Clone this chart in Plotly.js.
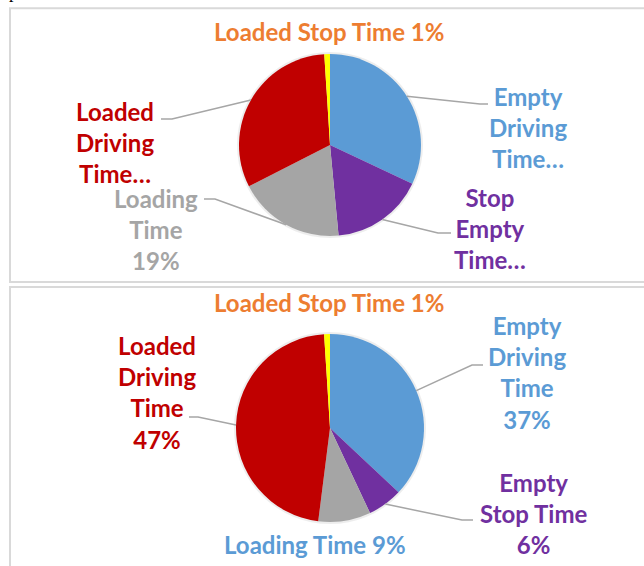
<!DOCTYPE html>
<html>
<head>
<meta charset="utf-8">
<script src="https://cdn.plot.ly/plotly-3.0.1.min.js"></script>
<style>
html,body{margin:0;padding:0;background:#fff;}
#chart{width:644px;height:566px;}
</style>
</head>
<body>
<div id="chart"></div>
<script>
// ---- data ----
const categories = ['Empty Driving Time', 'Empty Stop Time', 'Loading Time', 'Loaded Driving Time', 'Loaded Stop Time'];
const topValues = [32, 16.5, 19, 31.5, 1];
const bottomValues = [37, 6, 9, 47, 1];
const sliceColors = ['#5B9BD5', '#7030A0', '#A5A5A5', '#C00000', '#FFFF00'];
const topLabels = ['Empty<br>Driving<br>Time…', 'Stop<br>Empty<br>Time…', 'Loading<br>Time<br>19%', 'Loaded<br>Driving<br>Time…', 'Loaded Stop Time 1%'];
const bottomLabels = ['Empty<br>Driving<br>Time<br>37%', 'Empty<br>Stop Time<br>6%', 'Loading Time 9%', 'Loaded<br>Driving<br>Time<br>47%', 'Loaded Stop Time 1%'];
const topLabelColors = ['#5B9BD5', '#7030A0', '#A5A5A5', '#C00000', '#ED7D31'];
const bottomLabelColors = ['#5B9BD5', '#7030A0', '#5B9BD5', '#C00000', '#ED7D31'];

// ---- layout helpers ----
const W = 644, H = 566;
const px = x => x / W;
const py = y => 1 - y / H;

const charts = [
  {values: topValues, labels: topLabels, labelColors: topLabelColors, cx: 330, cy: 145, r: 91,
   labelPos: [[528, 127], [490, 228], [156, 229], [115, 142], [329, 32]],
   elbow:   [[480, 104, 488], [438, 233, 451], [215, 199, 204], [172, 119, 161], null]},
  {values: bottomValues, labels: bottomLabels, labelColors: bottomLabelColors, cx: 330, cy: 428, r: 94,
   labelPos: [[527, 372], [533, 513], [315, 544], [157, 392], [329, 302]],
   elbow:   [[472, 365, 483], [462, 520, 473], null, [198, 417, 189], null]}
];

const traces = [];
const annotations = [];
const shapes = [];

// chart frames
shapes.push({type: 'rect', xref: 'paper', yref: 'paper', x0: px(10), x1: px(700), y0: py(8.3), y1: py(282),
  line: {color: '#D9D9D9', width: 2}, fillcolor: 'rgba(0,0,0,0)'});
shapes.push({type: 'rect', xref: 'paper', yref: 'paper', x0: px(10), x1: px(700), y0: py(287), y1: py(620),
  line: {color: '#D9D9D9', width: 2}, fillcolor: 'rgba(0,0,0,0)'});

charts.forEach(c => {
  // soft shadow behind the pie
  shapes.push({type: 'circle', xref: 'paper', yref: 'paper', layer: 'below',
    x0: px(c.cx - c.r - 2), x1: px(c.cx + c.r + 2), y0: py(c.cy + c.r + 2), y1: py(c.cy - c.r - 2),
    line: {width: 0}, fillcolor: 'rgba(0,0,0,0.07)'});

  traces.push({
    type: 'pie', labels: categories, values: c.values, sort: false, direction: 'clockwise', rotation: 0,
    marker: {colors: sliceColors, line: {width: 0}},
    textinfo: 'none', hoverinfo: 'none', showlegend: false,
    domain: {x: [px(c.cx - c.r), px(c.cx + c.r)], y: [py(c.cy + c.r), py(c.cy - c.r)]}
  });

  const total = c.values.reduce((a, b) => a + b, 0);
  let cum = 0;
  c.values.forEach((v, i) => {
    const mid = (cum + v / 2) / total * 2 * Math.PI;
    cum += v;
    const sx = c.cx + c.r * Math.sin(mid);
    const sy = c.cy - c.r * Math.cos(mid);
    const e = c.elbow[i];
    if (e) {
      shapes.push({type: 'path', xref: 'paper', yref: 'paper',
        path: `M ${px(sx)} ${py(sy)} L ${px(e[0])} ${py(e[1])} L ${px(e[2])} ${py(e[1])}`,
        line: {color: '#A6A6A6', width: 1.5}});
    }
    annotations.push({
      xref: 'paper', yref: 'paper', x: px(c.labelPos[i][0]), y: py(c.labelPos[i][1]),
      xanchor: 'center', yanchor: 'middle', align: 'center', showarrow: false,
      text: '<b>' + c.labels[i] + '</b>',
      font: {family: 'Lato, Carlito, sans-serif', size: 24, color: c.labelColors[i]}
    });
  });
});

// stray glyph from the page above the frames
annotations.push({xref: 'paper', yref: 'paper', x: px(13), y: py(-8), xanchor: 'center', yanchor: 'middle',
  showarrow: false, text: 'p', font: {family: 'Liberation Serif, serif', size: 18, color: '#000'}});

const layout = {
  width: W, height: H,
  margin: {l: 0, r: 0, t: 0, b: 0},
  paper_bgcolor: '#fff', plot_bgcolor: '#fff',
  showlegend: false,
  shapes: shapes,
  annotations: annotations
};

Plotly.newPlot('chart', traces, layout, {displayModeBar: false, staticPlot: true});
</script>
</body>
</html>
